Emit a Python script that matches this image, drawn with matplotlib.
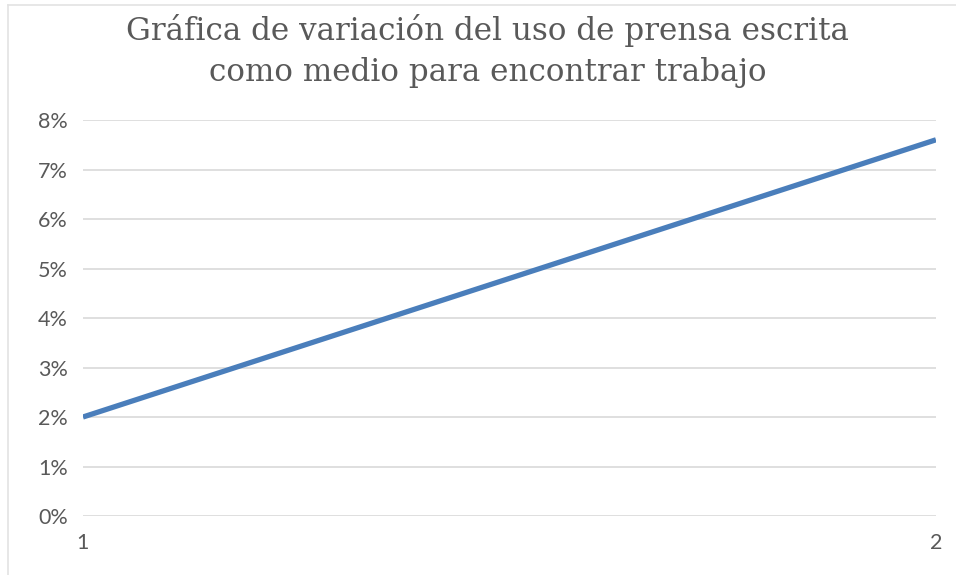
import matplotlib
matplotlib.use('Agg')
import matplotlib.pyplot as plt
from matplotlib.lines import Line2D
from matplotlib.ticker import FuncFormatter

# data
periods = [1, 2]
uso_prensa = [0.02, 0.076]
y_ticks = [0, 0.01, 0.02, 0.03, 0.04, 0.05, 0.06, 0.07, 0.08]
title = 'Gráfica de variación del uso de prensa escrita\ncomo medio para encontrar trabajo'

text_gray = '#595959'
grid_gray = '#d9d9d9'
line_blue = '#4a7ebb'

fig = plt.figure(figsize=(9.56, 5.75), dpi=100)
ax = fig.add_axes([0.0868, 0.1026, 0.8922, 0.6887])

ax.plot(periods, uso_prensa, color=line_blue, linewidth=3.8, solid_capstyle='butt')

ax.set_xlim(1, 2)
ax.set_ylim(0, 0.08)
ax.set_xticks(periods)
ax.set_yticks(y_ticks)
ax.yaxis.set_major_formatter(FuncFormatter(lambda v, p: f'{v*100:.0f}%'))
ax.grid(axis='y', color=grid_gray, linewidth=1.2)
ax.set_axisbelow(True)
for s in ax.spines.values():
    s.set_visible(False)
ax.tick_params(length=0, labelsize=15.5, labelcolor=text_gray, pad=11)
ax.tick_params(axis='x', pad=12)
for lbl in ax.get_xticklabels() + ax.get_yticklabels():
    lbl.set_family('Lato')

fig.text(0.51, 0.911, title, ha='center', va='center', fontsize=22.3,
         family='DejaVu Serif', color=text_gray, linespacing=1.42)

# chart frame (only top and left edges show in the crop)
fig.add_artist(Line2D([8/956, 1], [1 - 5/575, 1 - 5/575], color='#e3e3e3', lw=1.2))
fig.add_artist(Line2D([8/956, 8/956], [0, 1 - 5/575], color='#e3e3e3', lw=1.2))

plt.savefig('out.png', dpi=100)
